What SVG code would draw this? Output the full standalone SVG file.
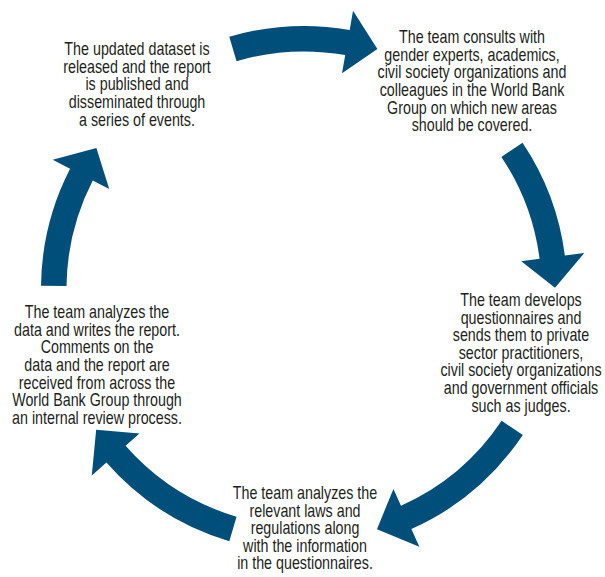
<svg xmlns="http://www.w3.org/2000/svg" xmlns:xlink="http://www.w3.org/1999/xlink" width="605" height="577" viewBox="0 0 605 577">
<style>
.t{font-family:"Liberation Sans",Arial,sans-serif;font-size:17.5px;fill:#231f20;text-anchor:middle}
.a{fill:#004f7a}
</style>
<defs>
<path id="arrA" d="M263,0 A263,263 0 0 1 235.37,117.35 L252.82,126.05 L209.31,138.54 L195.99,97.72 L212.55,105.97 A237.5,237.5 0 0 0 237.5,0 Z"/>
<path id="arrB" d="M263,0 A263,263 0 0 1 222.55,140.14 L239.05,150.53 L193.96,159.31 L185.32,116.70 L200.97,126.55 A237.5,237.5 0 0 0 237.5,0 Z"/>
</defs>
<rect width="605" height="577" fill="#fff"/>
<g id="connectors" class="a">
<use xlink:href="#arrA" href="#arrA" transform="translate(304,289) rotate(253.5)"/>
<use xlink:href="#arrA" href="#arrA" transform="translate(304,289) rotate(326.2)"/>
<use xlink:href="#arrB" href="#arrB" transform="translate(304,289) rotate(33.7)"/>
<use xlink:href="#arrB" href="#arrB" transform="translate(304,289) rotate(106.5)"/>
<use xlink:href="#arrA" href="#arrA" transform="translate(304,289) rotate(180.7)"/>
</g>
<g id="node-release" transform="matrix(0.816,0,0,1,137,0)">
<text class="t" x="0" y="55.3">The updated dataset is</text>
<text class="t" x="0" y="72.9">released and the report</text>
<text class="t" x="0" y="90.5">is published and</text>
<text class="t" x="0" y="108.1">disseminated through</text>
<text class="t" x="0" y="125.7">a series of events.</text>
</g>
<g id="node-consult" transform="matrix(0.816,0,0,1,472,0)">
<text class="t" x="0" y="43.3">The team consults with</text>
<text class="t" x="0" y="60.9">gender experts, academics,</text>
<text class="t" x="0" y="78.5">civil society organizations and</text>
<text class="t" x="0" y="96.1">colleagues in the World Bank</text>
<text class="t" x="0" y="113.7">Group on which new areas</text>
<text class="t" x="0" y="131.3">should be covered.</text>
</g>
<g id="node-questionnaires" transform="matrix(0.816,0,0,1,521,0)">
<text class="t" x="0" y="306">The team develops</text>
<text class="t" x="0" y="323.6">questionnaires and</text>
<text class="t" x="0" y="341.2">sends them to private</text>
<text class="t" x="0" y="358.8">sector practitioners,</text>
<text class="t" x="0" y="376.4">civil society organizations</text>
<text class="t" x="0" y="394">and government officials</text>
<text class="t" x="0" y="411.6">such as judges.</text>
</g>
<g id="node-laws" transform="matrix(0.816,0,0,1,305,0)">
<text class="t" x="0" y="499">The team analyzes the</text>
<text class="t" x="0" y="516.6">relevant laws and</text>
<text class="t" x="0" y="534.2">regulations along</text>
<text class="t" x="0" y="551.8">with the information</text>
<text class="t" x="0" y="569.4">in the questionnaires.</text>
</g>
<g id="node-report" transform="matrix(0.816,0,0,1,97,0)">
<text class="t" x="0" y="318.3">The team analyzes the</text>
<text class="t" x="0" y="335.9">data and writes the report.</text>
<text class="t" x="0" y="353.5">Comments on the</text>
<text class="t" x="0" y="371.1">data and the report are</text>
<text class="t" x="0" y="388.7">received from across the</text>
<text class="t" x="0" y="406.3">World Bank Group through</text>
<text class="t" x="0" y="423.9">an internal review process.</text>
</g>
</svg>
